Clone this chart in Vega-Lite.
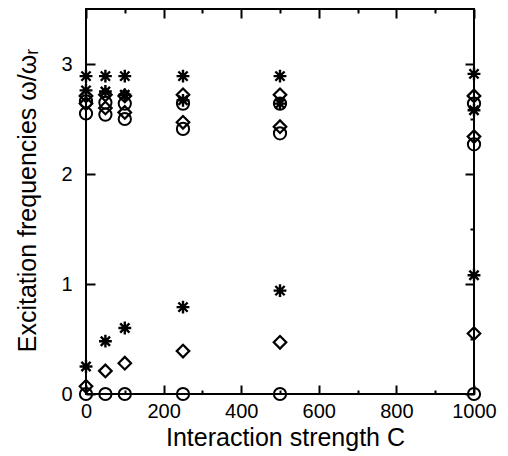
{
  "$schema": "https://vega.github.io/schema/vega-lite/v6.json",
  "width": 388,
  "height": 385,
  "autosize": {"type": "none"},
  "padding": {"left": 86, "top": 9, "right": 34, "bottom": 62},
  "background": "white",
  "config": {
    "view": {"stroke": "black", "strokeWidth": 2},
    "font": "Liberation Sans",
    "axis": {"grid": false, "domain": false, "ticks": true, "tickColor": "black", "tickWidth": 2, "labelColor": "black", "titleColor": "black", "labelFont": "Liberation Sans", "titleFont": "Liberation Sans", "titleFontWeight": "normal", "labelFontSize": 20, "titleFontSize": 25}
  },
  "data": {"values": [
    {"C": 0, "f": 2.89, "s": "star"},
    {"C": 0, "f": 2.76, "s": "star"},
    {"C": 0, "f": 0.25, "s": "star"},
    {"C": 50, "f": 2.89, "s": "star"},
    {"C": 50, "f": 2.75, "s": "star"},
    {"C": 50, "f": 0.48, "s": "star"},
    {"C": 100, "f": 2.89, "s": "star"},
    {"C": 100, "f": 2.72, "s": "star"},
    {"C": 100, "f": 0.60, "s": "star"},
    {"C": 250, "f": 2.89, "s": "star"},
    {"C": 250, "f": 2.67, "s": "star"},
    {"C": 250, "f": 0.79, "s": "star"},
    {"C": 500, "f": 2.89, "s": "star"},
    {"C": 500, "f": 2.64, "s": "star"},
    {"C": 500, "f": 0.94, "s": "star"},
    {"C": 1000, "f": 2.91, "s": "star"},
    {"C": 1000, "f": 2.58, "s": "star"},
    {"C": 1000, "f": 1.08, "s": "star"},
    {"C": 0, "f": 2.71, "s": "diamond"},
    {"C": 0, "f": 2.64, "s": "diamond"},
    {"C": 0, "f": 0.07, "s": "diamond"},
    {"C": 50, "f": 2.72, "s": "diamond"},
    {"C": 50, "f": 2.60, "s": "diamond"},
    {"C": 50, "f": 0.21, "s": "diamond"},
    {"C": 100, "f": 2.71, "s": "diamond"},
    {"C": 100, "f": 2.56, "s": "diamond"},
    {"C": 100, "f": 0.28, "s": "diamond"},
    {"C": 250, "f": 2.72, "s": "diamond"},
    {"C": 250, "f": 2.47, "s": "diamond"},
    {"C": 250, "f": 0.39, "s": "diamond"},
    {"C": 500, "f": 2.72, "s": "diamond"},
    {"C": 500, "f": 2.43, "s": "diamond"},
    {"C": 500, "f": 0.47, "s": "diamond"},
    {"C": 1000, "f": 2.71, "s": "diamond"},
    {"C": 1000, "f": 2.34, "s": "diamond"},
    {"C": 1000, "f": 0.55, "s": "diamond"},
    {"C": 0, "f": 2.66, "s": "circle"},
    {"C": 0, "f": 2.55, "s": "circle"},
    {"C": 0, "f": 0.0, "s": "circle"},
    {"C": 50, "f": 2.65, "s": "circle"},
    {"C": 50, "f": 2.54, "s": "circle"},
    {"C": 50, "f": 0.0, "s": "circle"},
    {"C": 100, "f": 2.64, "s": "circle"},
    {"C": 100, "f": 2.50, "s": "circle"},
    {"C": 100, "f": 0.0, "s": "circle"},
    {"C": 250, "f": 2.64, "s": "circle"},
    {"C": 250, "f": 2.41, "s": "circle"},
    {"C": 250, "f": 0.0, "s": "circle"},
    {"C": 500, "f": 2.64, "s": "circle"},
    {"C": 500, "f": 2.37, "s": "circle"},
    {"C": 500, "f": 0.0, "s": "circle"},
    {"C": 1000, "f": 2.64, "s": "circle"},
    {"C": 1000, "f": 2.27, "s": "circle"},
    {"C": 1000, "f": 0.0, "s": "circle"}
  ]},
  "resolve": {"axis": {"x": "independent", "y": "independent"}},
  "layer": [
    {
      "mark": {"type": "point", "filled": false, "strokeWidth": 2, "opacity": 1, "clip": false},
      "encoding": {
        "x": {"field": "C", "type": "quantitative", "scale": {"domain": [0, 1000], "nice": false, "zero": false},
          "axis": {"orient": "bottom", "title": "Interaction strength C", "values": [0,100,200,300,400,500,600,700,800,900,1000],
            "format": "d",
            "labelExpr": "datum.value % 200 === 0 ? datum.label : ''",
            "tickSize": -9,
            "tickDash": {"condition": {"test": "datum.value % 200 === 0", "value": [20, 0]}, "value": [4, 30]},
            "labelPadding": 16, "labelFlush": false, "labelOverlap": false, "titleBaseline": "alphabetic", "titleY": 51, "titleX": 199}},
        "y": {"field": "f", "type": "quantitative", "scale": {"domain": [0, 3.5], "nice": false, "zero": false},
          "axis": {"orient": "left", "title": "Excitation frequencies ω/ωᵣ", "values": [0,0.5,1,1.5,2,2.5,3],
            "format": "d",
            "labelExpr": "datum.value % 1 === 0 ? datum.label : ''",
            "tickSize": -9,
            "tickDash": {"condition": {"test": "datum.value % 1 === 0", "value": [20, 0]}, "value": [4, 30]},
            "labelPadding": 23, "labelFlush": false, "labelOverlap": false, "titleBaseline": "alphabetic", "titleX": -51, "titleY": 191}},
        "shape": {"field": "s", "type": "nominal", "legend": null,
          "scale": {"domain": ["star", "diamond", "circle"], "range": ["M0,-1L0,1M-1,0L1,0M-0.72,-0.72L0.72,0.72M-0.72,0.72L0.72,-0.72", "diamond", "circle"]}},
        "size": {"field": "s", "type": "nominal", "legend": null,
          "scale": {"domain": ["star", "diamond", "circle"], "range": [165, 150, 48]}},
        "strokeWidth": {"field": "s", "type": "nominal", "legend": null,
          "scale": {"domain": ["star", "diamond", "circle"], "range": [2.4, 2, 2]}},
        "color": {"value": "black"}
      }
    },
    {
      "mark": {"type": "point", "opacity": 0},
      "encoding": {
        "x": {"field": "C", "type": "quantitative",
          "axis": {"orient": "top", "title": null, "labels": false, "values": [0,100,200,300,400,500,600,700,800,900,1000],
            "tickSize": -9,
            "tickDash": {"condition": {"test": "datum.value % 200 === 0", "value": [20, 0]}, "value": [4, 30]}}},
        "y": {"field": "f", "type": "quantitative",
          "axis": {"orient": "right", "title": null, "labels": false, "values": [0,0.5,1,1.5,2,2.5,3],
            "tickSize": -9,
            "tickDash": {"condition": {"test": "datum.value % 1 === 0", "value": [20, 0]}, "value": [4, 30]}}}
      }
    }
  ]
}
